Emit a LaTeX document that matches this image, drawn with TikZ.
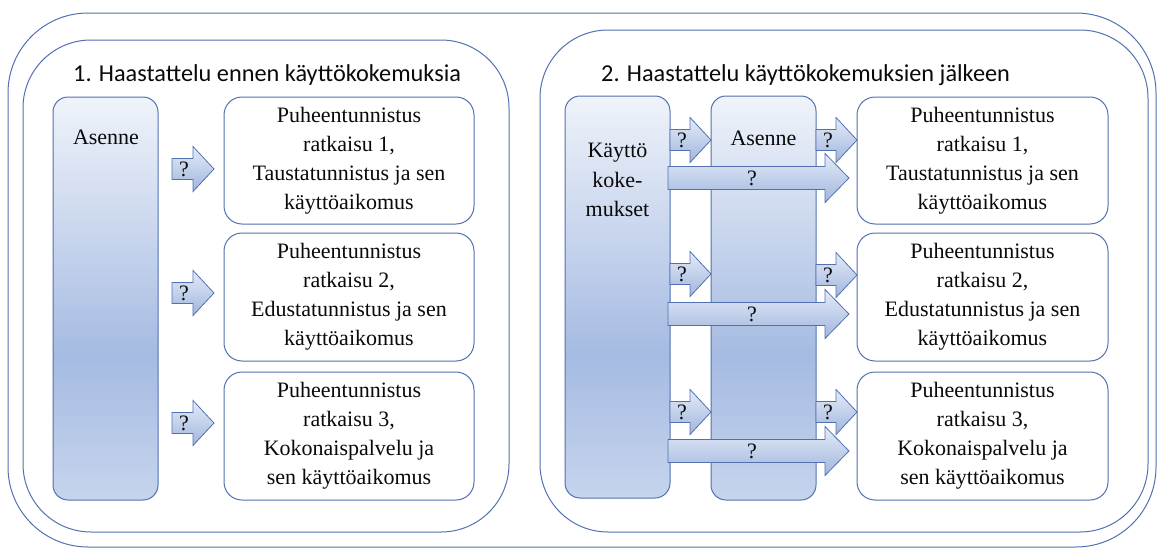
\documentclass[tikz,border=0pt]{standalone}
\usepackage{fontspec}
\setmainfont{Liberation Serif}
\newfontfamily\bodyfont{Liberation Serif}
\newfontfamily\titlefont{Carlito}
\definecolor{lineblue}{RGB}{82,113,176}
\definecolor{shtop}{RGB}{239,243,250}
\definecolor{shmid}{RGB}{166,187,226}
\definecolor{shbot}{RGB}{198,212,237}
\definecolor{artop}{RGB}{228,235,247}
\definecolor{arbot}{RGB}{160,182,222}
\definecolor{txtcol}{RGB}{10,10,10}
\pgfdeclareverticalshading{tallshade}{100bp}{color(0bp)=(shbot); color(25bp)=(shbot); color(43bp)=(shmid); color(75bp)=(shtop); color(100bp)=(shtop)}
\tikzset{
  tallbox/.style={draw=lineblue, line width=1pt, rounded corners=15, shading=tallshade, inner sep=0},
  resbox/.style={draw=lineblue, line width=1pt, rounded corners=18, fill=white, align=center, inner sep=0,
     minimum width=250, minimum height=127, text=txtcol, font=\bodyfont\fontsize{22}{29}\selectfont},
  bodytxt/.style={align=center, inner sep=0, text=txtcol, font=\bodyfont\fontsize{22}{29.5}\selectfont},
  titletxt/.style={anchor=west, inner sep=0, text=txtcol, font=\titlefont\fontsize{24.3}{29}\selectfont},
  arrowsty/.style={draw=lineblue, line width=0.8pt, top color=artop, bottom color=arbot},
  qtxt/.style={inner sep=0, text=txtcol, font=\bodyfont\fontsize{22}{26}\selectfont}
}
% name, x1, head start, tip, yc, body half, head half, x of "?"
\newcommand{\blockarr}[8]{%
  \path[arrowsty] (#2,#5-#6) -- (#3,#5-#6) -- (#3,#5-#7) -- (#4,#5) -- (#3,#5+#7) -- (#3,#5+#6) -- (#2,#5+#6) -- cycle;
  \node[qtxt] (#1) at (#8,#5) {?};}
\begin{document}
\begin{tikzpicture}[x=1pt,y=-1pt]
\useasboundingbox (0,0) rectangle (1160,549);
% outer frame and panels
\node[draw=lineblue, line width=1pt, rounded corners=80, minimum width=1148, minimum height=534, inner sep=0] (outer) at (582,280) {};
\node[draw=lineblue, line width=1pt, rounded corners=68, minimum width=486, minimum height=492, inner sep=0] (p1) at (266,286) {};
\node[draw=lineblue, line width=1pt, rounded corners=68, minimum width=608, minimum height=502, inner sep=0] (p2) at (844,281) {};
% titles
\node[titletxt] (t1) at (73,75) {1. Haastattelu ennen käyttökokemuksia};
\node[titletxt] (t2) at (601,75) {2. Haastattelu käyttökokemuksien jälkeen};
% left panel
\node[tallbox, minimum width=105, minimum height=403] (a1) at (105.5,298.5) {};
\node[bodytxt] (a1t) at (106,137) {Asenne};
\node[resbox] (l1) at (349,160.5) {Puheentunnistus\\ratkaisu 1,\\Taustatunnistus ja sen\\käyttöaikomus};
\node[resbox, minimum height=128] (l2) at (349,297) {Puheentunnistus\\ratkaisu 2,\\Edustatunnistus ja sen\\käyttöaikomus};
\node[resbox, minimum height=128] (l3) at (349,436) {Puheentunnistus\\ratkaisu 3,\\Kokonaispalvelu ja\\sen käyttöaikomus};
\blockarr{q1}{172}{193}{214}{169}{10.5}{22.5}{184}
\blockarr{q2}{172}{193}{214}{293}{10.5}{22.5}{184}
\blockarr{q3}{172}{193}{214}{423}{10.5}{22.5}{184}
% right panel
\node[tallbox, minimum width=105, minimum height=402] (k) at (617.5,297) {};
\node[bodytxt] (kt) at (617.5,180) {Käyttö\\koke-\\mukset};
\node[tallbox, minimum width=105, minimum height=404] (a2) at (763.5,298) {};
\node[bodytxt] (a2t) at (763.5,138) {Asenne};
\node[resbox, minimum width=251] (r1) at (982.5,160.5) {Puheentunnistus\\ratkaisu 1,\\Taustatunnistus ja sen\\käyttöaikomus};
\node[resbox, minimum width=251, minimum height=128] (r2) at (982.5,297) {Puheentunnistus\\ratkaisu 2,\\Edustatunnistus ja sen\\käyttöaikomus};
\node[resbox, minimum width=251, minimum height=128] (r3) at (982.5,436) {Puheentunnistus\\ratkaisu 3,\\Kokonaispalvelu ja\\sen käyttöaikomus};
% long arrows
\blockarr{g1}{668}{825}{849}{178}{11.5}{24.5}{752}
\blockarr{g2}{668}{825}{849}{314}{11.5}{24.5}{752}
\blockarr{g3}{668}{825}{849}{451}{11.5}{24.5}{752}
% small arrows
\blockarr{s1}{670}{690}{711}{140}{10.5}{22.5}{682}
\blockarr{s2}{670}{690}{711}{274}{10.5}{22.5}{682}
\blockarr{s3}{670}{690}{711}{412}{10.5}{22.5}{682}
\blockarr{u1}{816}{836}{857}{140}{10.5}{22.5}{828}
\blockarr{u2}{816}{836}{857}{275}{10.5}{22.5}{828}
\blockarr{u3}{816}{836}{857}{412}{10.5}{22.5}{828}
\end{tikzpicture}
\end{document}
